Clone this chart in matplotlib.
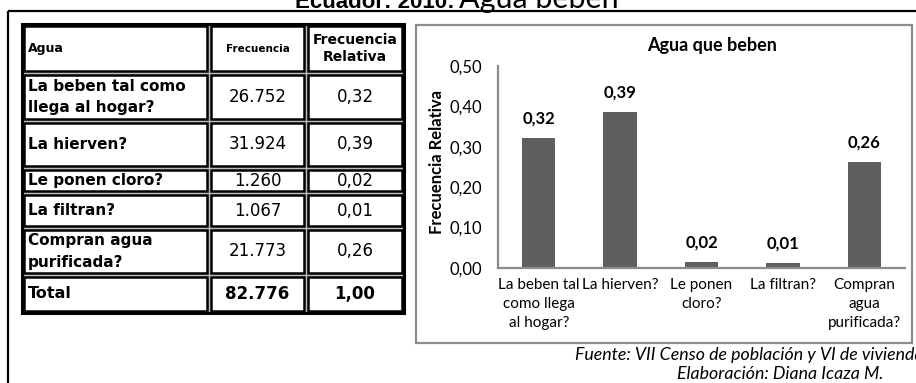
import matplotlib.pyplot as plt
import matplotlib.patches as patches
import numpy as np

# ---------------- data ----------------
row_labels = ['La beben tal como\nllega al hogar?', 'La hierven?', 'Le ponen cloro?',
              'La filtran?', 'Compran agua\npurificada?']
frecuencia = ['26.752', '31.924', '1.260', '1.067', '21.773']
frec_rel = ['0,32', '0,39', '0,02', '0,01', '0,26']
total_frec = '82.776'
total_rel = '1,00'

categorias = ['La beben tal\ncomo llega\nal hogar?', 'La hierven?', 'Le ponen\ncloro?',
              'La filtran?', 'Compran\nagua\npurificada?']
valores = [0.323, 0.386, 0.015, 0.013, 0.263]
y_ticks = [0.0, 0.1, 0.2, 0.3, 0.4, 0.5]

W, H = 916, 383
BAR_COLOR = '#5f5f5f'
AXIS_GRAY = '#8c8c8c'
TABLE_FONT = 'DejaVu Sans'
CHART_FONT = 'Lato'

fig = plt.figure(figsize=(W / 100, H / 100), dpi=100)


def fx(x):
    return x / W


def fy(y):
    return 1 - y / H


def line(x0, y0, x1, y1, **kw):
    fig.add_artist(plt.Line2D([fx(x0), fx(x1)], [fy(y0), fy(y1)],
                              transform=fig.transFigure, **kw))


def rect(x0, y0, x1, y1, **kw):
    fig.add_artist(patches.Rectangle((fx(x0), fy(y1)), fx(x1) - fx(x0), fy(y0) - fy(y1),
                                     transform=fig.transFigure, **kw))


# ---------- page title (cut off at top edge, as in the source) ----------
fig.text(fx(455), fy(8), 'Ecuador: 2010:', fontsize=16, fontweight='bold',
         family='Liberation Sans', va='baseline', ha='right')
fig.text(fx(459), fy(8), 'Agua beben', fontsize=22, family=CHART_FONT,
         va='baseline', ha='left')

# outer frame
line(8, 11, 916, 11, color='black', lw=1.6, solid_capstyle='butt')
line(8, 11, 8, 383, color='black', lw=1.6, solid_capstyle='butt')

# ---------------- table ----------------
cols = [22, 209, 306, 404]
rows = [24, 73, 121, 168, 193, 228, 275, 313]

rect(cols[0], rows[0], cols[-1], rows[-1], facecolor='#bdbdbd', edgecolor='black', lw=2.2)
for i in range(len(rows) - 1):
    for j in range(len(cols) - 1):
        rect(cols[j] + 2, rows[i] + 2, cols[j + 1] - 2, rows[i + 1] - 2,
             facecolor='white', edgecolor='black', lw=1.8)


def cell_text(i, j, txt, size, bold=False, ha='center', ls=1.1):
    yc = (rows[i] + rows[i + 1]) / 2
    if ha == 'left':
        xp = cols[j] + 6
    else:
        xp = (cols[j] + cols[j + 1]) / 2
    fig.text(fx(xp), fy(yc), txt, fontsize=size, family=TABLE_FONT,
             fontweight='bold' if bold else 'normal', ha=ha, va='center',
             linespacing=ls, multialignment=ha)


cell_text(0, 0, 'Agua', 9, bold=True, ha='left')
cell_text(0, 1, 'Frecuencia', 7.5, bold=True)
cell_text(0, 2, 'Frecuencia\nRelativa', 10, bold=True, ls=1.25)
for k in range(len(row_labels)):
    cell_text(k + 1, 0, row_labels[k], 11, bold=True, ha='left', ls=1.5)
    cell_text(k + 1, 1, frecuencia[k], 12)
    cell_text(k + 1, 2, frec_rel[k], 12)
cell_text(6, 0, 'Total', 11.5, bold=True, ha='left')
cell_text(6, 1, total_frec, 12, bold=True)
cell_text(6, 2, total_rel, 12, bold=True)

# ---------------- chart ----------------
rect(416, 25, 912, 343, facecolor='none', edgecolor=AXIS_GRAY, lw=1.6)

ax = fig.add_axes([fx(498), fy(268), fx(905) - fx(498), fy(66) - fy(268)])
x = np.arange(len(valores))
ax.bar(x, valores, width=0.41, color=BAR_COLOR)
ax.set_xlim(-0.5, len(valores) - 0.5)
ax.set_ylim(0, 0.5)
ax.set_yticks(y_ticks)
ax.set_yticklabels([('%.2f' % v).replace('.', ',') for v in y_ticks],
                   family=CHART_FONT, fontsize=12)
ax.yaxis.set_tick_params(length=0, pad=11.5)
ax.set_xticks(x)
ax.set_xticklabels(categorias, family=CHART_FONT, fontsize=11, linespacing=1.45)
ax.xaxis.set_tick_params(length=0, pad=7)
for s in ['top', 'right']:
    ax.spines[s].set_visible(False)
for s in ['left', 'bottom']:
    ax.spines[s].set_color(AXIS_GRAY)
    ax.spines[s].set_linewidth(1.6)
ax.patch.set_alpha(0)

for xi, v, lab in zip(x, valores, frec_rel):
    ax.annotate(lab, (xi, v), xytext=(0, 8), textcoords='offset points',
                ha='center', va='bottom', fontsize=12, fontweight='bold', family=CHART_FONT)

fig.text(fx(712), fy(45), 'Agua que beben', fontsize=13, fontweight='bold',
         family=CHART_FONT, ha='center', va='center')
fig.text(fx(437), fy(162), 'Frecuencia Relativa', fontsize=12, fontweight='bold',
         family=CHART_FONT, rotation=90, ha='center', va='center')

# footnotes (cut off at right edge, as in the source)
fig.text(fx(575), fy(355), 'Fuente: VII Censo de población y VI de vivienda', fontsize=12.8,
         style='italic', family=CHART_FONT, ha='left', va='center')
fig.text(fx(677), fy(374), 'Elaboración: Diana Icaza M.', fontsize=12.8,
         style='italic', family=CHART_FONT, ha='left', va='center')

plt.savefig('out.png', dpi=100)
